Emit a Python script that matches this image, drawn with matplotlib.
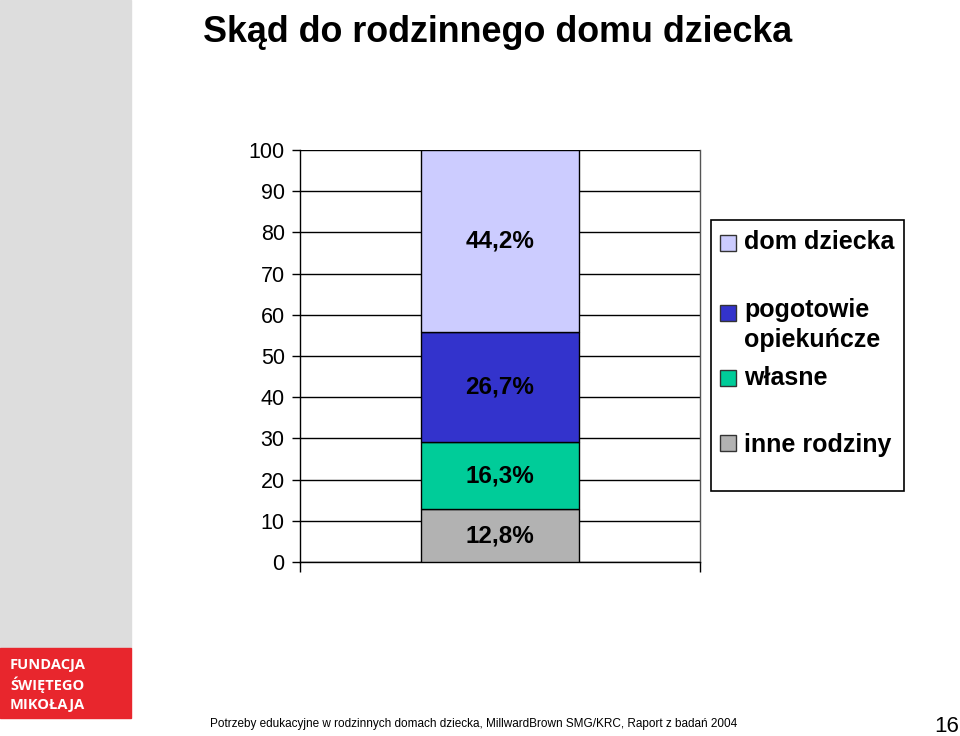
import matplotlib
matplotlib.use('Agg')
import matplotlib.pyplot as plt
from matplotlib.patches import Rectangle

plt.rcParams['font.family'] = ['Liberation Sans', 'DejaVu Sans']

# Data (stacked from the bottom)
categories = ['inne rodziny', 'własne', 'pogotowie\nopiekuńcze', 'dom dziecka']
values = [12.8, 16.3, 26.7, 44.2]
value_labels = ['12,8%', '16,3%', '26,7%', '44,2%']
colors = ['#b2b2b2', '#00cc99', '#3333cc', '#ccccff']
yticks = [0, 10, 20, 30, 40, 50, 60, 70, 80, 90, 100]

W, H = 960, 736
fig = plt.figure(figsize=(9.6, 7.36), dpi=100)


def fx(px):
    return px / W


def fy(py):
    return 1 - py / H


# left decoration strip + logo
fig.patches.append(Rectangle((0, fy(648)), fx(131), 648 / H, transform=fig.transFigure,
                             color='#dddddd', zorder=0))
fig.patches.append(Rectangle((0, fy(718)), fx(131), 70 / H, transform=fig.transFigure,
                             color='#e8262d', zorder=0))
for i, line in enumerate(['FUNDACJA', 'ŚWIĘTEGO', 'MIKOŁAJA']):
    fig.text(fx(10), fy(665 + i * 20), line, color='white', fontsize=10.5,
             fontweight='bold', family=['Open Sans', 'DejaVu Sans'], va='center', ha='left')

fig.text(fx(203), fy(33), 'Skąd do rodzinnego domu dziecka', fontsize=25.8,
         fontweight='bold', va='center', ha='left')

ax = fig.add_axes([fx(300), fy(562), 400 / W, 412 / H])
bottom = 0
for v, c, lab in zip(values, colors, value_labels):
    ax.bar(0, v, width=0.395, bottom=bottom, color=c, edgecolor='black', linewidth=1, zorder=3)
    ax.text(0, bottom + v / 2, lab, ha='center', va='center', fontsize=17.5,
            fontweight='bold', zorder=4)
    bottom += v

ax.set_xlim(-0.5, 0.5)
ax.set_ylim(0, 100)
ax.set_yticks(yticks)
ax.set_yticklabels([str(t) for t in yticks], fontsize=15.5)
ax.set_xticks([-0.5, 0.5])
ax.set_xticklabels(['', ''])
ax.tick_params(axis='y', length=6, width=1, pad=5)
ax.tick_params(axis='x', length=7, width=1, direction='out')
ax.yaxis.grid(True, color='black', linewidth=1, zorder=0)
ax.set_axisbelow(True)
for s in ['left', 'right', 'bottom']:
    ax.spines[s].set_linewidth(1)
ax.spines['top'].set_visible(False)
ax.spines['right'].set_color('#555555')

# legend box, drawn by hand to keep the uneven row spacing of the original
fig.patches.append(Rectangle((fx(711), fy(491)), 193 / W, 271 / H, transform=fig.transFigure,
                             facecolor='white', edgecolor='black', linewidth=1.2, zorder=5))
swatch_y = [443, 378, 313, 243]
label_y = [445, 378, 325, 242]
for c, name, sy, ly in zip(colors, categories, swatch_y, label_y):
    fig.patches.append(Rectangle((fx(720), fy(sy + 8)), 16 / W, 16 / H, transform=fig.transFigure,
                                 facecolor=c, edgecolor='#333333', linewidth=1, zorder=6))
    fig.text(fx(744), fy(ly), name, fontsize=18, fontweight='bold', va='center', ha='left',
             linespacing=1.3, zorder=7)

fig.text(fx(210), fy(724),
         'Potrzeby edukacyjne w rodzinnych domach dziecka, MillwardBrown SMG/KRC, Raport z badań 2004',
         fontsize=8.5, va='center', ha='left')
fig.text(fx(959), fy(727), '16', fontsize=16, va='center', ha='right')

fig.savefig('out.png', dpi=100)
